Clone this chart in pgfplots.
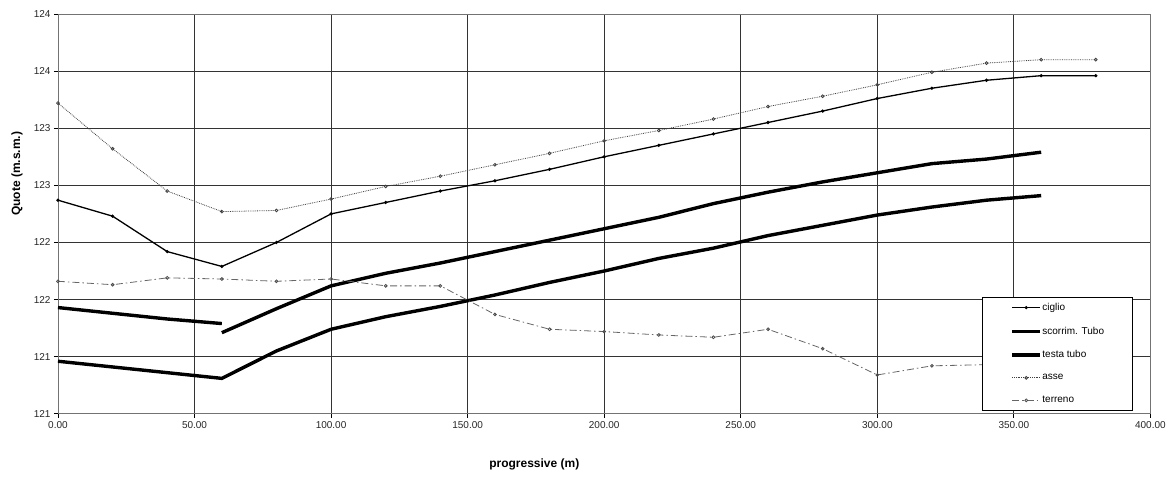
\documentclass[border=0pt]{standalone}
\usepackage{pgfplots}
\pgfplotsset{compat=1.18}
\usepackage{fontspec}
\setmainfont{Liberation Sans}
\pgfplotsset{
  longleg/.style={legend image code/.code={\draw[mark repeat=2,mark phase=2,##1] plot coordinates {(0pt,0pt)(14pt,0pt)(28pt,0pt)};}},
}
\begin{document}
\begin{tikzpicture}
\begin{axis}[
 scale only axis, width=1093pt, height=400pt,
 xmin=0, xmax=400, ymin=120.5, ymax=124,
 xtick={0,50,...,400},
 xticklabels={0.00,50.00,100.00,150.00,200.00,250.00,300.00,350.00,400.00},
 ytick={120.5,121,121.5,122,122.5,123,123.5,124},
 yticklabels={121,121,122,122,123,123,124,124},
 tick label style={font=\fontsize{10}{12}\selectfont, black!85},
 grid=major, major grid style={black!80, line width=0.7pt},
 axis line style={black!55, line width=0.8pt},
 tick align=outside, tick pos=left, major tick length=4pt,
 tick style={black, line width=0.7pt},
 xlabel={progressive (m)}, ylabel={Quote (m.s.m.)},
 label style={font=\bfseries\fontsize{12}{14}\selectfont},
 xlabel style={at={(axis description cs:0.436,-0.1275)}, anchor=center},
 ylabel style={at={(axis description cs:-0.0375,0.6)}, anchor=center},
 unbounded coords=jump,
 legend style={at={(axis description cs:0.846,0.2925)}, anchor=north west,
   draw=black, line width=0.8pt, fill=white, font=\fontsize{10}{12}\selectfont,
   inner xsep=28pt, inner ysep=4pt, row sep=11pt, nodes={inner xsep=0.5pt}},
 legend cell align=left,
]
% ciglio
\addplot[longleg, black, line width=1.3pt, mark=*, mark size=0.9pt] coordinates {
(0,122.37)(20,122.23)(40,121.92)(60,121.79)(80,122.00)(100,122.25)(120,122.35)(140,122.45)
(160,122.54)(180,122.64)(200,122.75)(220,122.85)(240,122.95)(260,123.05)(280,123.15)
(300,123.26)(320,123.35)(340,123.42)(360,123.46)(380,123.46)};
\addlegendentry{ciglio}
% scorrim. Tubo
\addplot[longleg, black, line width=3.4pt] coordinates {
(0,121.43)(20,121.38)(40,121.33)(60,121.29)(60,nan)(60,121.21)(80,121.42)(100,121.62)
(120,121.73)(140,121.82)(160,121.92)(180,122.02)(200,122.12)(220,122.22)(240,122.34)
(260,122.44)(280,122.53)(300,122.61)(320,122.69)(340,122.73)(360,122.79)};
\addlegendentry{scorrim. Tubo}
% testa tubo
\addplot[longleg, black, line width=3.4pt] coordinates {
(0,120.96)(20,120.91)(40,120.86)(60,120.81)(80,121.05)(100,121.24)(120,121.35)(140,121.44)
(160,121.54)(180,121.65)(200,121.75)(220,121.86)(240,121.95)(260,122.06)(280,122.15)
(300,122.24)(320,122.31)(340,122.37)(360,122.41)};
\addlegendentry{testa tubo}
% asse
\addplot[longleg, black!75, line width=0.8pt, densely dotted, mark=o, mark size=1.4pt, mark options={solid, black!75}] coordinates {
(0,123.22)(20,122.82)(40,122.45)(60,122.27)(80,122.28)(100,122.38)(120,122.49)(140,122.58)
(160,122.68)(180,122.78)(200,122.89)(220,122.98)(240,123.08)(260,123.19)(280,123.28)
(300,123.38)(320,123.49)(340,123.57)(360,123.60)(380,123.60)};
\addlegendentry{asse}
% terreno
\addplot[longleg, black!60, line width=0.8pt, dash pattern=on 7pt off 3pt on 1.5pt off 3pt, mark=o, mark size=1.4pt, mark options={solid, black!70}] coordinates {
(0,121.66)(20,121.63)(40,121.69)(60,121.68)(80,121.66)(100,121.68)(120,121.62)(140,121.62)
(160,121.37)(180,121.24)(200,121.22)(220,121.19)(240,121.17)(260,121.24)(280,121.07)
(300,120.84)(320,120.92)(340,120.93)(360,120.93)};
\addlegendentry{terreno}
\end{axis}
\path (current axis.south west) ++(-58pt,-86pt) coordinate (bbA);
\path (current axis.north east) ++(18pt,14pt) coordinate (bbB);
\path[use as bounding box] (bbA) rectangle (bbB);
\end{tikzpicture}
\end{document}
